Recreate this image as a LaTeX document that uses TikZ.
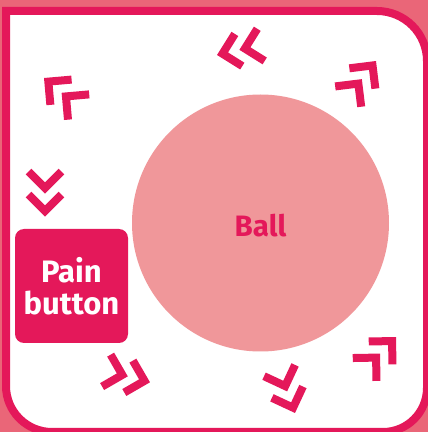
\documentclass[tikz,border=0pt]{standalone}
\usepackage{fontspec}
\setmainfont{Fira Sans}
\usetikzlibrary{
	positioning,
	shapes.geometric
}
\definecolor{bgcolor}{HTML}{EA6678}
\definecolor{paincolor}{HTML}{E4185A}
\definecolor{ballcolor}{HTML}{F0979A}
\tikzset{
	framebox/.style={
		draw=paincolor,
		fill=white,
		line width=8pt
	},
	ballnode/.style={
		circle,
		fill=ballcolor,
		minimum size=257pt,
		inner sep=0pt
	},
	balltext/.style={
		anchor=base,
		text=paincolor,
		font=\bfseries\fontsize{29.5}{30}\selectfont
	},
	painbox/.style={
		fill=paincolor,
		rounded corners=9pt,
		minimum width=113pt,
		minimum height=114pt,
		inner sep=0pt,
		align=center,
		text=white,
		font=\bfseries\fontsize{31}{32}\selectfont
	},
	chevline/.style={
		draw=paincolor,
		line width=8pt,
		line join=miter,
		line cap=butt
	},
	chevpair/.pic={
		\foreach \d in {0,23}{
			\draw[chevline] (-5.66-\d-16.5,16.5) -- (-5.66-\d,0) -- (-5.66-\d-16.5,-16.5);
		}
	}
}

\begin{document}
\begin{tikzpicture}[x=1pt,y=1pt]
	
	% Background and frame
	\fill[bgcolor] (0,0) rectangle (428,432);
	\useasboundingbox (0,0) rectangle (428,432);
	\draw[framebox] (6,421) -- (377,421) arc[start angle=90,end angle=0,radius=50]
		-- (427,44) arc[start angle=0,end angle=-90,radius=44]
		-- (52,0) arc[start angle=-90,end angle=-180,radius=46] -- cycle;
	
	% Nodes
	\node[ballnode] (ball) at (260.5,209) {};
	\node[balltext] (balllabel) at ([yshift=-13.7pt]ball.center) {Ball};
	\node[painbox] (pain) at (71.5,146) {Pain\\button};
	
	% Chevrons around the ball
	\pic[rotate=140] (chevtl) at (44,354) {chevpair};
	\pic[rotate=193] (chevtop) at (217,377) {chevpair};
	\pic[rotate=52] (chevtr) at (376,371) {chevpair};
	\pic[rotate=270] (chevleft) at (45,215.3) {chevpair};
	\pic[rotate=-15] (chevbl) at (150,49.7) {chevpair};
	\pic[rotate=-70] (chevbot) at (295,19) {chevpair};
	\pic[rotate=46] (chevbr) at (396,95) {chevpair};
	
\end{tikzpicture}
\end{document}
